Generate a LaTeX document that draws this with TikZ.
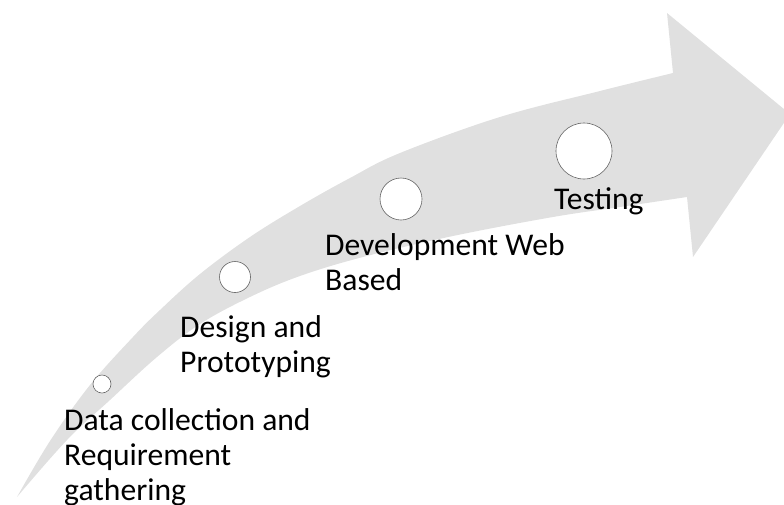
\documentclass[tikz,border=0pt]{standalone}
\usepackage{fontspec}
\setmainfont{Carlito}
\definecolor{bandgrey}{RGB}{224,224,224}
\definecolor{ringgrey}{RGB}{100,100,100}
\begin{document}
\begin{tikzpicture}[x=1pt,y=-1pt,
  lbl/.style={anchor=base west, inner sep=0pt, font=\fontsize{31.6}{35}\selectfont, text=black},
  dot/.style={circle, draw=ringgrey, line width=0.6pt, fill=white, inner sep=0pt},
]
\useasboundingbox (0,0) rectangle (784,504);
\clip (0,0) rectangle (784,504);
% curved grey arrow
\fill[bandgrey] plot[smooth, tension=0.6] coordinates {(17,497) (50,441) (90,385) (133,337) (160,310) (200,274) (250,237) (300,206) (350,178) (400,153) (500,117) (600,91) (673,73)}
  -- (667,13) -- (790,114) -- (693,257) -- (687,197)
  -- plot[smooth, tension=0.6] coordinates {(687,197) (620,207) (553,217) (453,236) (363,257) (300,276) (250,297) (200,324) (157,357) (110,400) (67,440) (17,497)}
  -- cycle;
% circles
\node[dot, minimum size=18pt] (c1) at (102,384) {};
\node[dot, minimum size=31pt] (c2) at (235,277) {};
\node[dot, minimum size=42pt] (c3) at (401,199) {};
\node[dot, minimum size=56pt] (c4) at (584,151) {};
% labels
\node[lbl] (t1a) at (64,430) {Data collection and};
\node[lbl] (t1b) at (64,465) {Requirement};
\node[lbl] (t1c) at (64,500) {gathering};
\node[lbl] (t2a) at (180,337) {Design and};
\node[lbl] (t2b) at (180,372) {Prototyping};
\node[lbl] (t3a) at (325,255) {Development Web};
\node[lbl] (t3b) at (325,290) {Based};
\node[lbl] (t4) at (554,209) {Testing};
\end{tikzpicture}
\end{document}
